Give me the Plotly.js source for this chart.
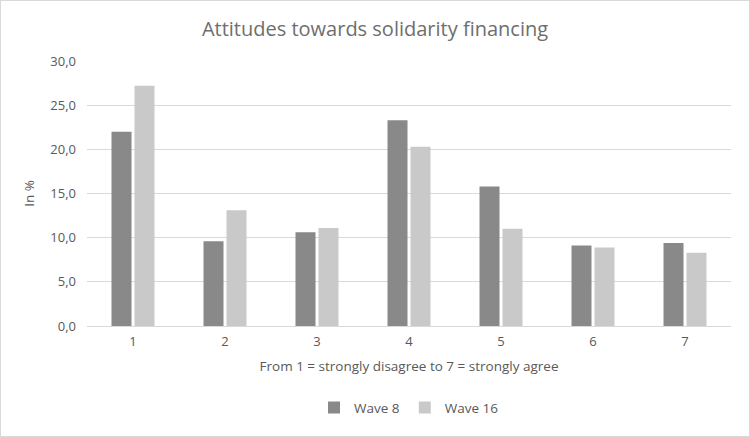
<!DOCTYPE html>
<html>
<head>
<meta charset="utf-8">
<script src="https://cdn.plot.ly/plotly-3.0.1.min.js"></script>
<style>
html,body{margin:0;padding:0;background:#fff;}
#chart{width:748px;height:435px;border:1px solid #d9d9d9;}
</style>
</head>
<body>
<div id="chart"></div>
<script>
const categories = ['1','2','3','4','5','6','7'];
const wave8 = [22.0, 9.6, 10.6, 23.3, 15.8, 9.1, 9.4];
const wave16 = [27.2, 13.1, 11.1, 20.3, 11.0, 8.9, 8.3];
const seriesNames = ['Wave 8', 'Wave 16'];
const yTicks = [0, 5, 10, 15, 20, 25, 30];

const fontFam = 'Open Sans, sans-serif';
const txt = '#595959';

const data = [
  {type:'bar', x:categories, y:wave8, name:seriesNames[0], marker:{color:'#898989'}, hoverinfo:'none'},
  {type:'bar', x:categories, y:wave16, name:seriesNames[1], marker:{color:'#c9c9c9'}, hoverinfo:'none'}
];

const layout = {
  width:748, height:435,
  margin:{l:86, r:18, t:60, b:110},
  separators:', ',
  paper_bgcolor:'#fff', plot_bgcolor:'#fff',
  font:{family:fontFam, color:txt, size:12},
  title:{text:'Attitudes towards solidarity financing', font:{size:20, color:'#6e6e6e', family:fontFam}, x:0.5, xanchor:'center', y:0.936, yanchor:'middle'},
  barmode:'group', bargap:0.5, bargroupgap:0.13,
  showlegend:true,
  legend:{orientation:'h', x:0.5, xanchor:'center', y:-0.25, yanchor:'top', font:{size:13.5, color:txt}, itemwidth:30, traceorder:'normal'},
  xaxis:{type:'category', showgrid:false, zeroline:false, showline:false, ticks:'', tickfont:{size:13, color:txt}, ticklabelstandoff:6,
    title:{text:'From 1 = strongly disagree to 7 = strongly agree', font:{size:13.5, color:txt}, standoff:12}},
  yaxis:{range:[0,30], tickvals:yTicks, tickformat:'.1f', showgrid:true, gridcolor:'#d9d9d9', gridwidth:1,
    zeroline:true, zerolinecolor:'#d9d9d9', zerolinewidth:1, showline:false, ticks:'', tickfont:{size:13, color:txt}, ticklabelstandoff:10,
    title:{text:'In %', font:{size:13.5, color:txt}, standoff:12}}
};

Plotly.newPlot('chart', data, layout, {displayModeBar:false, staticPlot:true});
</script>
</body>
</html>
